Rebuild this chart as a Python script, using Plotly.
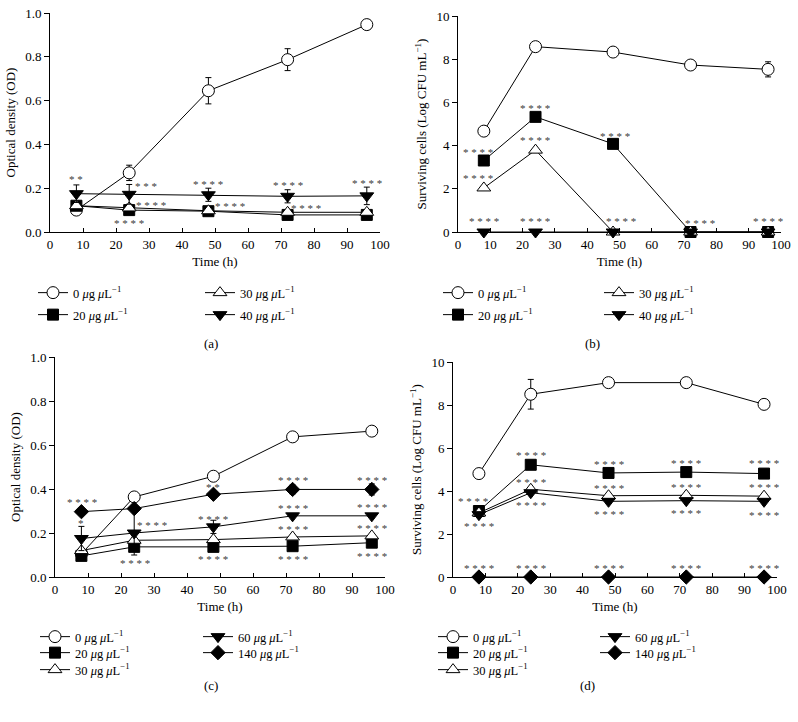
import plotly.graph_objects as go

W, H = 798, 722
TIME = [8, 24, 48, 72, 96]

# ---------------- Panel (a): optical density ----------------
A_CONC = ["0", "20", "30", "40"]
A_0 = [0.10, 0.27, 0.645, 0.787, 0.947]
A_0_ERR = [0.0, 0.035, 0.06, 0.05, 0.0]
A_20 = [0.12, 0.10, 0.095, 0.078, 0.078]
A_20_ERR = [0, 0, 0, 0, 0]
A_30 = [0.12, 0.11, 0.097, 0.09, 0.09]
A_30_ERR = [0, 0, 0, 0, 0]
A_40 = [0.175, 0.172, 0.17, 0.163, 0.165]
A_40_ERR = [0.04, 0.045, 0.03, 0.03, 0.04]
A_STAR_X = [7.9, 29, 48, 72, 96, 30.5, 24, 54.5, 77.5, 102]
A_STAR_Y = [0.24, 0.21, 0.218, 0.215, 0.225, 0.125, 0.04, 0.12, 0.11, 0.11]
A_STAR_T = ["**", "***", "****", "****", "****", "****", "****", "****", "****", "****"]

# ---------------- Panel (b): surviving cells ----------------
B_CONC = ["0", "20", "30", "40"]
B_0 = [4.67, 8.58, 8.33, 7.73, 7.53]
B_0_ERR = [0.12, 0.1, 0.1, 0.15, 0.35]
B_20 = [3.31, 5.33, 4.08, 0, 0]
B_20_ERR = [0, 0, 0, 0, 0]
B_30 = [2.04, 3.79, 0, 0, 0]
B_30_ERR = [0, 0, 0, 0, 0]
B_40 = [0, 0, 0, 0, 0]
B_40_ERR = [0, 0, 0, 0, 0]
B_STAR_X = [23.8, 6.2, 23.8, 48.5, 6.2, 8, 23.8, 50.6, 75, 96]
B_STAR_Y = [5.75, 3.7, 4.26, 4.45, 2.48, 0.5, 0.5, 0.5, 0.42, 0.53]
B_STAR_T = ["****"] * 10

# ---------------- Panel (c): optical density ----------------
C_CONC = ["0", "20", "30", "60", "140"]
C_0 = [0.105, 0.364, 0.458, 0.637, 0.663]
C_0_ERR = [0, 0, 0, 0, 0]
C_20 = [0.096, 0.137, 0.137, 0.14, 0.156]
C_20_ERR = [0, 0.0, 0, 0, 0]
C_30 = [0.12, 0.167, 0.17, 0.182, 0.187]
C_30_ERR = [0, 0, 0, 0, 0]
C_60 = [0.175, 0.2, 0.228, 0.278, 0.278]
C_60_ERR = [0.055, 0.1, 0.03, 0, 0]
C_140 = [0.297, 0.311, 0.376, 0.398, 0.398]
C_140_ERR = [0, 0, 0, 0.02, 0.025]
C_STAR_X = [8.1, 7.9, 29.3, 24.2, 48, 48, 48, 72, 72, 72, 72, 96, 96, 96, 96]
C_STAR_Y = [0.34, 0.245, 0.238, 0.063, 0.41, 0.265, 0.08, 0.44, 0.315, 0.218, 0.08, 0.443, 0.318, 0.225, 0.095]
C_STAR_T = ["****", "*", "****", "****", "**", "****", "****", "****", "****", "****", "****",
            "****", "****", "****", "****"]

# ---------------- Panel (d): surviving cells ----------------
D_CONC = ["0", "20", "30", "60", "140"]
D_0 = [4.81, 8.5, 9.04, 9.04, 8.03]
D_0_ERR = [0.12, 0.69, 0.1, 0.1, 0.1]
D_20 = [3.07, 5.22, 4.84, 4.88, 4.81]
D_20_ERR = [0, 0, 0, 0, 0]
D_30 = [2.98, 4.08, 3.78, 3.8, 3.76]
D_30_ERR = [0, 0, 0, 0, 0]
D_60 = [2.9, 3.92, 3.52, 3.55, 3.52]
D_60_ERR = [0, 0, 0, 0, 0]
D_140 = [0, 0, 0, 0, 0]
D_140_ERR = [0, 0, 0, 0, 0]
D_STAR_X = [24.2, 48.1, 71.9, 95.9, 24.2, 48.1, 71.9, 95.9, 6.3, 24.2, 8.1, 48.1, 71.9, 95.9,
            8, 24, 48, 72, 96]
D_STAR_Y = [5.66, 5.26, 5.31, 5.31, 4.41, 4.14, 4.19, 4.17, 3.55, 3.37, 2.36, 2.93, 2.98, 2.87,
            0.42, 0.42, 0.42, 0.42, 0.42]
D_STAR_T = ["****"] * 19

# ---------------- styles ----------------
SERIF = "Liberation Serif, Times New Roman, serif"
MARKERS = {
    "0": dict(symbol="circle", size=12, color="white", line=dict(color="black", width=1)),
    "20": dict(symbol="square", size=11, color="black", line=dict(color="black", width=1)),
    "30": dict(symbol="triangle-up", size=12, color="white", line=dict(color="black", width=1)),
    "40": dict(symbol="triangle-down", size=12, color="black", line=dict(color="black", width=1)),
    "60": dict(symbol="triangle-down", size=12, color="black", line=dict(color="black", width=1)),
    "140": dict(symbol="diamond", size=11, color="black", line=dict(color="black", width=1)),
}

# legend item positions in pixels (symbol centre x, row centre y)
LEG_POS = {
    "a": [(63, 293), (63, 315), (230, 293), (230, 315)],
    "b": [(468, 293), (468, 315), (629, 293), (629, 315)],
    "c": [(65, 637), (65, 653), (65, 670), (228, 637), (228, 653)],
    "d": [(463, 637), (463, 653), (463, 670), (625, 637), (625, 653)],
}

# plot area rectangles in pixels: (left, right, top, bottom)
RECT = {
    "a": (50, 380, 13, 232),
    "b": (458, 781, 16, 232),
    "c": (55, 385, 357, 577),
    "d": (453, 777, 362, 577),
}
AXIS_ID = {"a": ("x", "y"), "b": ("x2", "y2"), "c": ("x3", "y3"), "d": ("x4", "y4")}

PANELS = {
    "a": (A_CONC, [A_0, A_20, A_30, A_40], [A_0_ERR, A_20_ERR, A_30_ERR, A_40_ERR],
          A_STAR_X, A_STAR_Y, A_STAR_T),
    "b": (B_CONC, [B_0, B_20, B_30, B_40], [B_0_ERR, B_20_ERR, B_30_ERR, B_40_ERR],
          B_STAR_X, B_STAR_Y, B_STAR_T),
    "c": (C_CONC, [C_0, C_20, C_30, C_60, C_140],
          [C_0_ERR, C_20_ERR, C_30_ERR, C_60_ERR, C_140_ERR],
          C_STAR_X, C_STAR_Y, C_STAR_T),
    "d": (D_CONC, [D_0, D_20, D_30, D_60, D_140],
          [D_0_ERR, D_20_ERR, D_30_ERR, D_60_ERR, D_140_ERR],
          D_STAR_X, D_STAR_Y, D_STAR_T),
}

fig = go.Figure()
layout_extra = {}
annotations = []
leg_idx = 0


def legend_name(i):
    return "legend" if i == 0 else f"legend{i + 1}"


for key, (concs, series, errs, sx, sy, st) in PANELS.items():
    xa, ya = AXIS_ID[key]
    for i, c in enumerate(concs):
        lname = legend_name(leg_idx)
        px, py = LEG_POS[key][i]
        layout_extra[lname] = dict(
            x=(px - 30) / W, y=1 - py / H, xanchor="left", yanchor="middle",
            bgcolor="rgba(0,0,0,0)", borderwidth=0, itemwidth=30,
            font=dict(family=SERIF, size=12.5, color="black"),
        )
        leg_idx += 1
        fig.add_trace(go.Scatter(
            x=TIME, y=series[i], mode="lines+markers",
            name=f"{c} <i>\u03bc</i>g <i>\u03bc</i>L<sup>\u22121</sup>",
            line=dict(color="black", width=1),
            marker=MARKERS[c],
            error_y=dict(type="data", array=errs[i], color="black", thickness=1, width=3,
                         visible=True),
            xaxis=xa, yaxis=ya, legend=lname, cliponaxis=False,
        ))
    for x, y, t in zip(sx, sy, st):
        annotations.append(dict(
            x=x, y=y, xref=xa, yref=ya, text=" ".join(t), showarrow=False,
            font=dict(family=SERIF, size=11, color="#3a3a3a"),
        ))

# panel labels
for lab, (px, py) in {"(a)": (202, 343), "(b)": (602, 343), "(c)": (202, 695), "(d)": (597, 695)}.items():
    annotations.append(dict(x=px / W, y=1 - py / H, xref="paper", yref="paper", text=lab,
                            showarrow=False, font=dict(family=SERIF, size=13, color="black")))

YTITLE = {
    "a": "Optical density (OD)",
    "b": "Surviving cells (Log CFU mL<sup>\u22121</sup>)",
    "c": "Optical density (OD)",
    "d": "Surviving cells (Log CFU mL<sup>\u22121</sup>)",
}
YRANGE = {"a": (0, 1), "b": (0, 10), "c": (0, 1), "d": (0, 10)}
YDTICK = {"a": 0.2, "b": 2, "c": 0.2, "d": 2}
YFMT = {"a": ".1f", "b": "d", "c": ".1f", "d": "d"}

for key, (l, r, t, b) in RECT.items():
    xa, ya = AXIS_ID[key]
    xname = "xaxis" + xa[1:]
    yname = "yaxis" + ya[1:]
    layout_extra[xname] = dict(
        domain=[l / W, r / W], range=[0, 100], dtick=10, anchor=ya, automargin=False,
        showline=True, linecolor="black", linewidth=1, ticks="inside", ticklen=4,
        tickcolor="black", showgrid=False, zeroline=False,
        title=dict(text="Time (h)", standoff=6, font=dict(family=SERIF, size=13)),
        tickfont=dict(family=SERIF, size=13),
    )
    layout_extra[yname] = dict(
        domain=[1 - b / H, 1 - t / H], range=list(YRANGE[key]), dtick=YDTICK[key],
        tickformat=YFMT[key], anchor=xa, automargin=False,
        showline=True, linecolor="black", linewidth=1, ticks="outside", ticklen=5,
        tickcolor="black", showgrid=False, zeroline=False,
        title=dict(text=YTITLE[key], standoff=6, font=dict(family=SERIF, size=13)),
        tickfont=dict(family=SERIF, size=13),
    )

fig.update_layout(
    template="none",
    width=W, height=H, margin=dict(l=0, r=0, t=0, b=0, autoexpand=False),
    plot_bgcolor="white", paper_bgcolor="white",
    font=dict(family=SERIF, size=13, color="black"),
    showlegend=True, annotations=annotations, hovermode=False,
    **layout_extra,
)

fig.write_html("out.html", config={"displayModeBar": False, "staticPlot": True},
               post_script="document.body.style.margin='0px';")
